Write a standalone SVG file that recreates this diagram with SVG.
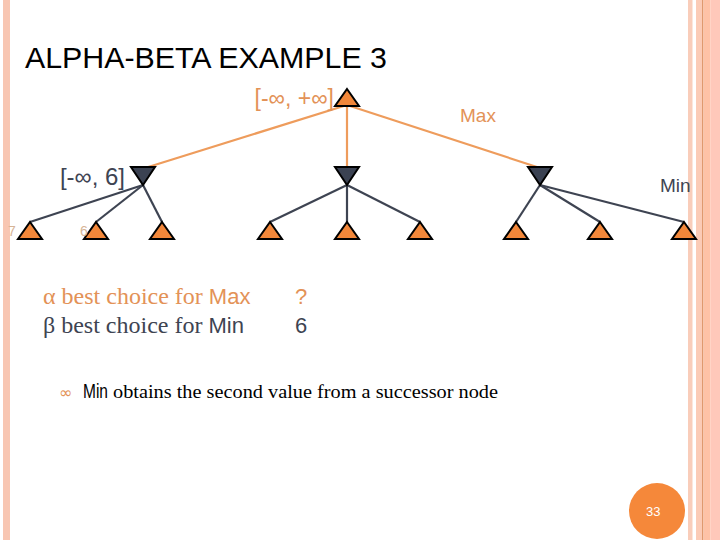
<svg xmlns="http://www.w3.org/2000/svg" width="720" height="540" viewBox="0 0 720 540">
<defs>
<style>
.sans{font-family:"Liberation Sans",Arial,sans-serif}
.or{fill:#E39257}
.dk{fill:#3E4452}
.leaf{fill:#F2873A;stroke:#000;stroke-width:2;stroke-linejoin:miter}
.min{fill:#3B4252;stroke:#000;stroke-width:2}
.eo{stroke:#EE9C5C;stroke-width:2.2;fill:none}
.ed{stroke:#3E4452;stroke-width:2.2;fill:none}
</style>
</defs>
<rect width="720" height="540" fill="#fff"/>
<!-- borders -->
<rect x="3" y="0" width="7" height="540" fill="#F8C6B2"/>
<rect x="688" y="0" width="4.5" height="540" fill="#F9CDBA"/>
<rect x="696" y="0" width="6" height="540" fill="#FBCBB6"/>
<rect x="702" y="0" width="1.5" height="540" fill="#E0996E"/>
<rect x="703.5" y="0" width="7" height="540" fill="#FEC2A6"/>
<rect x="710.5" y="0" width="9.5" height="540" fill="#FFC8BA"/>

<text x="25" y="68" class="sans" font-size="30" textLength="362" lengthAdjust="spacingAndGlyphs" fill="#000">ALPHA-BETA EXAMPLE 3</text>

<g id="connectors">
<line class="eo" x1="347" y1="105" x2="145" y2="168"/>
<line class="eo" x1="347" y1="105" x2="347" y2="168"/>
<line class="eo" x1="347" y1="105" x2="540" y2="168"/>
<line class="ed" x1="143" y1="185" x2="30" y2="222"/>
<line class="ed" x1="143" y1="185" x2="96" y2="222"/>
<line class="ed" x1="143" y1="185" x2="162" y2="222"/>
<line class="ed" x1="347" y1="185" x2="270" y2="222"/>
<line class="ed" x1="347" y1="185" x2="347" y2="222"/>
<line class="ed" x1="347" y1="185" x2="420" y2="222"/>
<line class="ed" x1="540" y1="185" x2="516" y2="222"/>
<line class="ed" x1="540" y1="185" x2="600" y2="222"/>
<line class="ed" x1="540" y1="185" x2="684" y2="222"/>
</g>

<g id="root">
<polygon class="leaf" points="347,89 359,106 335,106"/>
<text x="334" y="106" class="sans or" font-size="23" text-anchor="end">[-∞, +∞]</text>
</g>
<text x="460" y="122" class="sans or" font-size="19">Max</text>

<g id="min1"><polygon class="min" points="131,167 155,167 143,185"/>
<text x="125" y="185" class="sans dk" font-size="24" text-anchor="end">[-∞, 6]</text></g>
<g id="min2"><polygon class="min" points="335,167 359,167 347,185"/></g>
<g id="min3"><polygon class="min" points="528,167 552,167 540,185"/></g>
<text x="660" y="192" class="sans dk" font-size="19">Min</text>

<g id="leaf1"><polygon class="leaf" points="30,222 42,239 18,239"/><text x="8" y="236" class="sans" font-size="14" fill="#D6B496">7</text></g>
<g id="leaf2"><polygon class="leaf" points="96,222 108,239 84,239"/><text x="80" y="236" class="sans" font-size="14" fill="#D6B496">6</text></g>
<g id="leaf3"><polygon class="leaf" points="162,222 174,239 150,239"/></g>
<g id="leaf4"><polygon class="leaf" points="270,222 282,239 258,239"/></g>
<g id="leaf5"><polygon class="leaf" points="347,222 359,239 335,239"/></g>
<g id="leaf6"><polygon class="leaf" points="420,222 432,239 408,239"/></g>
<g id="leaf7"><polygon class="leaf" points="516,222 528,239 504,239"/></g>
<g id="leaf8"><polygon class="leaf" points="600,222 612,239 588,239"/></g>
<g id="leaf9"><polygon class="leaf" points="684,222 696,239 672,239"/></g>

<text x="43" y="304" font-family="Liberation Serif, serif" font-size="24" fill="#E39257">α best choice for <tspan font-family="Liberation Sans, sans-serif" font-size="22">Max</tspan></text>
<text x="295" y="304" class="sans or" font-size="22">?</text>
<text x="43" y="333" font-family="Liberation Serif, serif" font-size="24" fill="#3E4452">β best choice for <tspan font-family="Liberation Sans, sans-serif" font-size="22">Min</tspan></text>
<text x="295" y="333" class="sans dk" font-size="22">6</text>

<text x="59" y="398" font-family="DejaVu Sans, sans-serif" font-size="16" fill="#E39257">∞</text>
<text x="83" y="398" font-family="Liberation Sans, sans-serif" font-size="20" fill="#000" textLength="25" lengthAdjust="spacingAndGlyphs">Min</text>
<text x="113" y="398" font-family="Liberation Serif, serif" font-size="19.5" fill="#000" textLength="385" lengthAdjust="spacingAndGlyphs">obtains the second value from a successor node</text>

<circle cx="657" cy="511" r="28" fill="#F5883A"/>
<text x="646" y="516" class="sans" font-size="13" fill="#fff">33</text>
</svg>
